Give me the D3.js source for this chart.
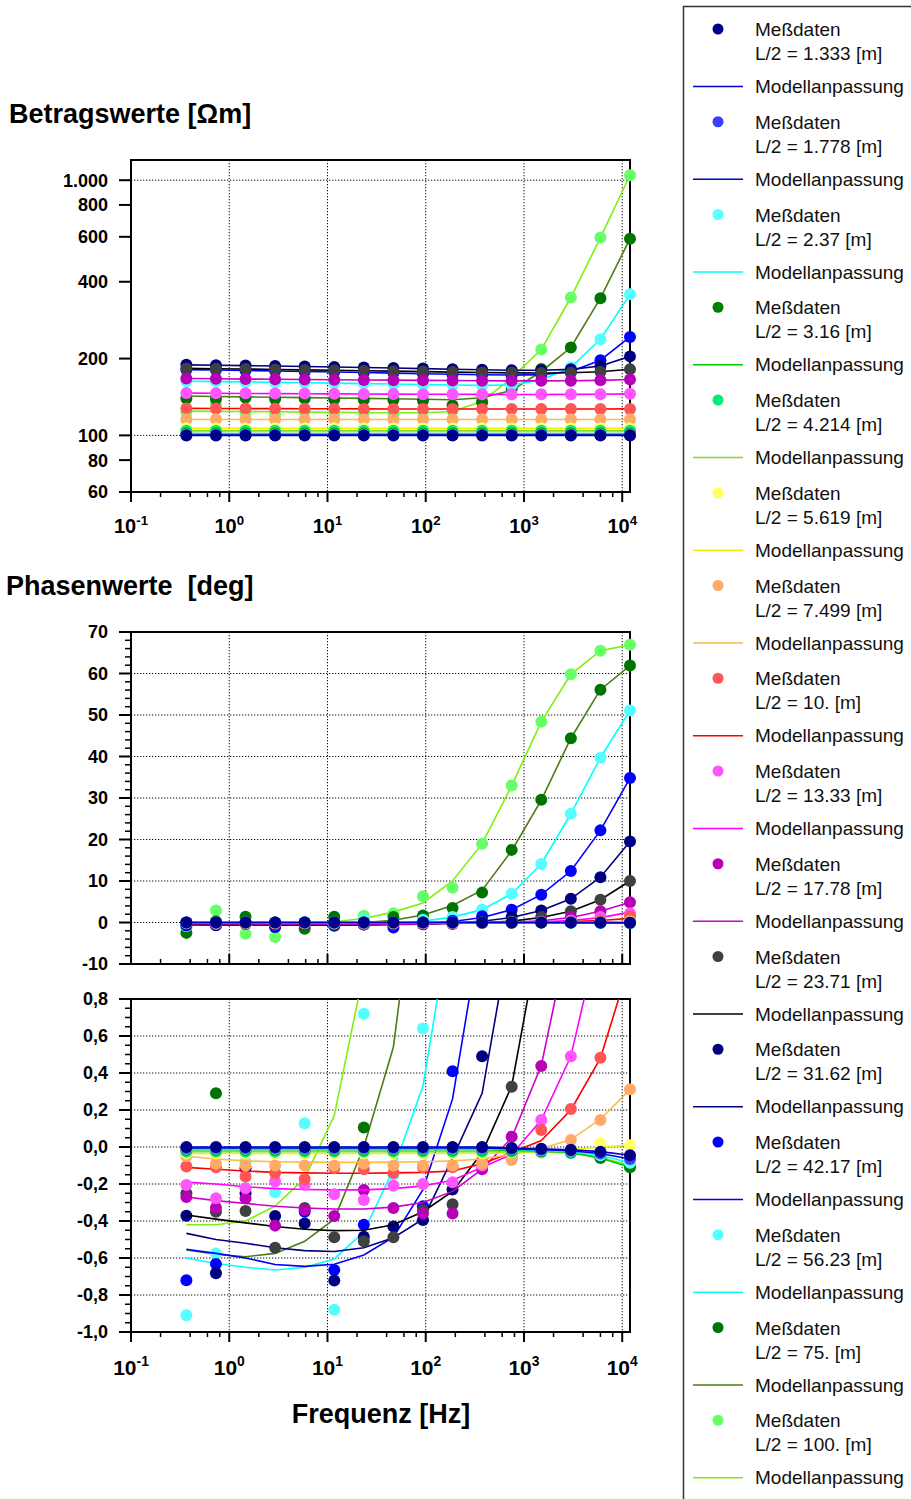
<!DOCTYPE html>
<html>
<head>
<meta charset="utf-8">
<script src="https://cdn.jsdelivr.net/npm/d3@7"></script>
<style>
  body { margin: 0; background: #fff; }
  svg { display: block; }
  text { font-family: "Liberation Sans", Arial, Helvetica, sans-serif; }
</style>
</head>
<body>
<svg id="chart" width="911" height="1499"></svg>
<script>
// Measurement frequencies [Hz]
const frequencies = [0.3662, 0.7324, 1.465, 2.930, 5.859, 11.72, 23.44, 46.88, 93.75, 187.5, 375, 750, 1500, 3000, 6000, 12000];

// Half electrode spacings L/2 [m]
const spacingLabels = ["1.333", "1.778", "2.37", "3.16", "4.214", "5.619", "7.499", "10.", "13.33", "17.78", "23.71", "31.62", "42.17", "56.23", "75.", "100."];

const measuredColors = ["#000088", "#3d3dff", "#5cffff", "#008000", "#00ee77", "#ffff66", "#ffaa66", "#ff5555", "#ff55ff", "#b800b8", "#404040", "#000080", "#0000ff", "#55ffff", "#007400", "#66ff66"];
const modelColors    = ["#0000c8", "#0000d8", "#00ffff", "#00c800", "#80e020", "#f0f000", "#ffbb44", "#ff0000", "#ff00ff", "#cc00cc", "#000000", "#000080", "#0000ff", "#00ffff", "#4b7d12", "#80ee10"];

// Apparent resistivity magnitude [Ohm m], one row per spacing
const rhoMeasured = [
  [100,100,100,100,100,100,100,100,100,100,100,100,100,100,100,100],
  [100.4,100.4,100.4,100.4,100.4,100.4,100.4,100.4,100.4,100.4,100.4,100.4,100.4,100.4,100.4,100.4],
  [100.9,100.9,100.9,100.9,100.9,100.9,100.9,100.9,100.9,100.9,100.9,100.9,100.9,100.9,100.9,100.9],
  [101.7,101.7,101.7,101.7,101.7,101.7,101.7,101.7,101.7,101.7,101.7,101.7,101.7,101.7,101.7,101.7],
  [104.2,104.2,104.2,104.2,104.2,104.2,104.2,104.2,104.2,104.2,104.2,104.2,104.2,104.2,104.2,104.2],
  [106.6,106.6,106.6,106.6,106.6,106.6,106.6,106.6,106.6,106.6,106.6,106.6,106.6,106.6,106.6,106.6],
  [115.6,115.6,115.6,115.6,115.6,115.6,115.6,115.6,115.6,115.6,115.6,115.6,115.6,115.6,115.6,115.6],
  [127.6,127.5,127.4,127.3,127.2,127.1,127.0,126.9,126.9,126.8,126.8,126.8,126.8,126.8,126.9,127.0],
  [146.6,146.4,146.2,146.0,145.8,145.6,145.4,145.3,145.1,145.0,144.9,144.8,144.8,144.9,145.1,145.6],
  [167.0,166.6,166.2,165.9,165.5,165.2,164.9,164.6,164.3,164.0,163.8,163.6,163.6,163.8,164.3,165.6],
  [183.0,182.5,182.0,181.3,180.6,179.9,179.2,178.5,177.8,177.0,176.3,175.8,175.7,176.0,177.5,181.5],
  [189.0,188.4,187.7,187.0,186.2,185.4,184.5,183.6,182.7,181.7,180.7,180.0,180.0,181.5,187.0,204.0],
  [181.0,180.3,179.6,178.8,178.0,177.2,176.3,175.4,174.5,173.6,172.8,172.3,173.0,178.0,197.0,243.0],
  [163.0,162.5,162.0,161.4,160.8,160.2,159.6,159.0,158.3,157.6,157.0,157.5,165.0,185.0,238.0,357.0],
  [139.5,139.0,140.5,139.0,139.5,138.5,138.0,137.5,137.0,131.0,135.0,152.0,182.0,221.0,345.0,590.0],
  [123.0,133.0,122.5,121.0,124.0,122.0,123.0,121.5,123.5,125.0,137.0,170.0,217.0,347.0,596.0,1046.0]
];

const rhoModel = [
  [100,100,100,100,100,100,100,100,100,100,100,100,100,100,100,100],
  [100.4,100.4,100.4,100.4,100.4,100.4,100.4,100.4,100.4,100.4,100.4,100.4,100.4,100.4,100.4,100.4],
  [100.9,100.9,100.9,100.9,100.9,100.9,100.9,100.9,100.9,100.9,100.9,100.9,100.9,100.9,100.9,100.9],
  [101.7,101.7,101.7,101.7,101.7,101.7,101.7,101.7,101.7,101.7,101.7,101.7,101.7,101.7,101.7,101.7],
  [104.2,104.2,104.2,104.2,104.2,104.2,104.2,104.2,104.2,104.2,104.2,104.2,104.2,104.2,104.2,104.2],
  [106.6,106.6,106.6,106.6,106.6,106.6,106.6,106.6,106.6,106.6,106.6,106.6,106.6,106.6,106.6,106.6],
  [115.4,115.4,115.4,115.4,115.4,115.4,115.4,115.4,115.4,115.4,115.4,115.4,115.4,115.4,115.4,115.4],
  [127.6,127.5,127.4,127.3,127.2,127.1,127.0,126.9,126.9,126.8,126.8,126.8,126.8,126.8,126.9,127.0],
  [146.4,146.2,146.0,145.8,145.6,145.4,145.3,145.1,145.0,144.9,144.8,144.7,144.7,144.8,145.0,145.5],
  [167.0,166.6,166.2,165.9,165.5,165.2,164.9,164.6,164.3,164.0,163.8,163.6,163.6,163.8,164.3,165.6],
  [183.0,182.5,182.0,181.3,180.6,179.9,179.2,178.5,177.8,177.0,176.3,175.8,175.7,176.0,177.5,181.5],
  [189.0,188.4,187.7,187.0,186.2,185.4,184.5,183.6,182.7,181.7,180.7,180.0,180.0,181.5,187.0,204.0],
  [181.0,180.3,179.6,178.8,178.0,177.2,176.3,175.4,174.5,173.6,172.8,172.3,173.0,178.0,197.0,243.0],
  [163.0,162.5,162.0,161.4,160.8,160.2,159.6,159.0,158.3,157.6,157.0,157.5,165.0,185.0,238.0,357.0],
  [142.6,142.1,141.6,141.1,140.6,140.1,139.6,139.1,138.5,138.0,140.5,150.0,178.0,221.0,345.0,590.0],
  [124.5,124.2,124.0,123.7,123.4,123.1,122.8,122.6,122.6,124.0,136.0,168.0,217.0,347.0,596.0,1046.0]
];

// Phase [deg], one row per spacing
const phaseMeasured = [
  [0,0,0,0,0,0,0,0,0,0,0,-0.005,-0.01,-0.015,-0.025,-0.045],
  [-0.005,-0.005,-0.005,-0.005,-0.005,-0.005,-0.005,-0.005,-0.005,-0.005,-0.005,-0.01,-0.015,-0.02,-0.035,-0.065],
  [-0.01,-0.01,-0.01,-0.01,-0.01,-0.01,-0.01,-0.01,-0.01,-0.01,-0.01,-0.012,-0.018,-0.025,-0.045,-0.085],
  [-0.015,-0.015,-0.015,-0.015,-0.015,-0.015,-0.015,-0.015,-0.015,-0.015,-0.015,-0.017,-0.022,-0.03,-0.06,-0.11],
  [-0.025,-0.025,-0.025,-0.025,-0.025,-0.025,-0.025,-0.025,-0.025,-0.025,-0.025,-0.025,-0.027,-0.032,-0.055,-0.1],
  [-0.035,-0.035,-0.035,-0.035,-0.035,-0.035,-0.035,-0.035,-0.035,-0.035,-0.035,-0.03,-0.025,-0.015,0.02,0.01],
  [-0.05,-0.09,-0.1,-0.1,-0.1,-0.1,-0.09,-0.1,-0.1,-0.1,-0.09,-0.07,-0.03,0.038,0.146,0.312],
  [-0.106,-0.11,-0.16,-0.14,-0.173,-0.115,-0.12,-0.14,-0.11,-0.11,-0.08,-0.04,0.092,0.205,0.483,1.5],
  [-0.205,-0.277,-0.223,-0.187,-0.205,-0.256,-0.286,-0.21,-0.2,-0.19,-0.1,-0.061,0.146,0.49,1.3,2.2],
  [-0.27,-0.328,-0.277,-0.425,-0.34,-0.373,-0.232,-0.33,-0.36,-0.36,-0.12,0.056,0.438,1.3,2.7,4.9],
  [-0.25,-0.35,-0.346,-0.544,-0.33,-0.488,-0.51,-0.488,-0.34,-0.31,-0.02,0.326,1.3,2.7,5.5,10.0],
  [-0.371,-0.683,-0.25,-0.373,-0.413,-0.722,-0.485,-0.43,-0.395,-0.23,0.49,1.3,2.9,5.7,10.9,19.5],
  [-0.72,-0.632,-0.115,-1.1,-0.35,-0.665,-0.42,-1.2,-0.32,0.41,1.5,3.1,6.7,12.4,22.2,34.8],
  [-0.91,-0.575,-0.08,-0.245,0.128,-0.88,0.72,-0.15,0.64,1.3,3.1,6.9,14.1,26.2,39.7,51.1],
  [-2.5,0.29,1.4,-1.1,-1.5,1.4,0.106,1.3,1.7,3.5,7.2,17.5,29.6,44.4,56.1,61.9],
  [-1.3,2.9,-2.7,-3.5,-1.2,1.1,1.6,2.2,6.3,8.4,19.0,33.0,48.4,59.8,65.5,66.9]
];

const phaseModel = [
  [0,0,0,0,0,0,0,0,0,0,0,-0.005,-0.01,-0.015,-0.025,-0.045],
  [-0.005,-0.005,-0.005,-0.005,-0.005,-0.005,-0.005,-0.005,-0.005,-0.005,-0.005,-0.01,-0.015,-0.02,-0.035,-0.065],
  [-0.01,-0.01,-0.01,-0.01,-0.01,-0.01,-0.01,-0.01,-0.01,-0.01,-0.01,-0.012,-0.018,-0.025,-0.045,-0.085],
  [-0.015,-0.015,-0.015,-0.015,-0.015,-0.015,-0.015,-0.015,-0.015,-0.015,-0.015,-0.017,-0.022,-0.03,-0.06,-0.11],
  [-0.025,-0.025,-0.025,-0.025,-0.025,-0.025,-0.025,-0.025,-0.025,-0.025,-0.025,-0.025,-0.027,-0.032,-0.055,-0.1],
  [-0.035,-0.035,-0.035,-0.035,-0.035,-0.035,-0.035,-0.035,-0.035,-0.035,-0.035,-0.03,-0.025,-0.015,0.0,0.01],
  [-0.05,-0.065,-0.075,-0.08,-0.082,-0.083,-0.083,-0.082,-0.08,-0.075,-0.065,-0.04,-0.01,0.04,0.15,0.31],
  [-0.11,-0.12,-0.13,-0.137,-0.14,-0.142,-0.142,-0.14,-0.137,-0.13,-0.09,-0.03,0.035,0.2,0.48,1.0],
  [-0.19,-0.2,-0.215,-0.225,-0.23,-0.232,-0.232,-0.225,-0.21,-0.18,-0.11,-0.04,0.146,0.49,1.18,2.5],
  [-0.27,-0.29,-0.305,-0.32,-0.33,-0.335,-0.335,-0.325,-0.3,-0.24,-0.12,0.05,0.44,1.2,2.7,4.9],
  [-0.368,-0.39,-0.41,-0.43,-0.445,-0.452,-0.45,-0.42,-0.35,-0.24,-0.03,0.33,1.2,2.7,5.5,10.0],
  [-0.467,-0.5,-0.52,-0.545,-0.56,-0.565,-0.545,-0.49,-0.39,-0.06,0.29,1.2,2.9,5.7,10.9,19.5],
  [-0.553,-0.575,-0.6,-0.635,-0.645,-0.634,-0.584,-0.488,-0.23,0.26,1.22,3.1,6.7,12.4,22.2,34.8],
  [-0.6,-0.63,-0.65,-0.665,-0.65,-0.605,-0.46,-0.12,0.33,1.3,3.1,6.9,14.1,26.2,39.7,51.1],
  [-0.557,-0.58,-0.593,-0.575,-0.51,-0.39,0.0,0.54,1.8,4.1,7.8,17.3,29.5,44.4,56.1,61.9],
  [-0.42,-0.42,-0.4,-0.32,-0.17,0.17,0.95,2.5,4.7,10.0,19.0,33.0,48.4,59.8,65.5,66.9]
];

// Axis ticks and labels
const decadeTicks = [0.1, 1, 10, 100, 1000, 10000];
const decadeExponents = ["-1", "0", "1", "2", "3", "4"];
const minorMultipliers = [2, 4, 6, 8];
const rhoTicks = [60, 80, 100, 200, 400, 600, 800, 1000];
const rhoTickLabels = ["60", "80", "100", "200", "400", "600", "800", "1.000"];
const rhoGrid = [100, 1000];
const phaseTicks = [-10, 0, 10, 20, 30, 40, 50, 60, 70];
const phaseGrid = [0, 10, 20, 30, 40, 50, 60];
const zoomTicks = [-1.0, -0.8, -0.6, -0.4, -0.2, 0.0, 0.2, 0.4, 0.6, 0.8];
const zoomGrid = [-0.8, -0.6, -0.4, -0.2, 0.0, 0.2, 0.4, 0.6];

const svg = d3.select("#chart");
const X0 = 131, X1 = 630;
const x = d3.scaleLog().domain([0.1, 12000]).range([X0, X1]);

const minorX = [];
decadeTicks.forEach(d => minorMultipliers.forEach(m => { if (d * m <= 12000) minorX.push(d * m); }));

function drawPanel(cfg) {
  const g = svg.append("g");
  const y = cfg.y;
  const [yb, yt] = y.range();

  // dotted grid
  g.selectAll("line.vgrid").data(decadeTicks.slice(1)).join("line")
    .attr("x1", d => x(d)).attr("x2", d => x(d))
    .attr("y1", yt).attr("y2", yb)
    .attr("stroke", "#111").attr("stroke-width", 1).attr("stroke-dasharray", "1.3,1.7");
  g.selectAll("line.hgrid").data(cfg.grid).join("line")
    .attr("x1", X0).attr("x2", X1)
    .attr("y1", d => y(d)).attr("y2", d => y(d))
    .attr("stroke", "#111").attr("stroke-width", 1).attr("stroke-dasharray", "1.3,1.7");

  // frame
  g.append("rect").attr("x", X0).attr("y", yt)
    .attr("width", X1 - X0).attr("height", yb - yt)
    .attr("fill", "none").attr("stroke", "#000").attr("stroke-width", 2);

  // y ticks and labels
  g.selectAll("line.ymaj").data(cfg.yTicks).join("line")
    .attr("x1", X0 - 12).attr("x2", X0).attr("y1", d => y(d)).attr("y2", d => y(d))
    .attr("stroke", "#000").attr("stroke-width", 2);
  if (cfg.yMinor) {
    g.selectAll("line.ymin").data(cfg.yMinor).join("line")
      .attr("x1", X0 - 6).attr("x2", X0).attr("y1", d => y(d)).attr("y2", d => y(d))
      .attr("stroke", "#000").attr("stroke-width", 1.5);
  }
  g.selectAll("text.ylab").data(cfg.yTicks).join("text")
    .attr("x", 108).attr("y", d => y(d)).attr("dy", "0.36em")
    .attr("text-anchor", "end").attr("font-size", 18).attr("font-weight", "bold")
    .text((d, i) => cfg.yLabels[i]);

  // x ticks
  const dir = cfg.xTicksInward ? -1 : 1;
  g.selectAll("line.xmaj").data(decadeTicks).join("line")
    .attr("x1", d => x(d)).attr("x2", d => x(d))
    .attr("y1", yb).attr("y2", yb + dir * 10)
    .attr("stroke", "#000").attr("stroke-width", 2);
  g.selectAll("line.xmin").data(minorX).join("line")
    .attr("x1", d => x(d)).attr("x2", d => x(d))
    .attr("y1", yb).attr("y2", yb + dir * 5)
    .attr("stroke", "#000").attr("stroke-width", 1.5);
  if (cfg.xLabelBaseline) {
    const t = g.selectAll("text.xlab").data(decadeTicks).join("text")
      .attr("x", d => x(d)).attr("y", cfg.xLabelBaseline)
      .attr("text-anchor", "middle").attr("font-weight", "bold")
      .attr("font-size", cfg.xLabelSize);
    t.append("tspan").text("10");
    t.append("tspan").attr("dy", -cfg.xLabelSize * 0.42)
      .attr("font-size", cfg.xLabelSize * 0.66)
      .text((d, i) => decadeExponents[i]);
  }

  // model curves and measured points
  const clipId = "clip" + cfg.id;
  svg.append("clipPath").attr("id", clipId).append("rect")
    .attr("x", X0 - 10).attr("y", yt).attr("width", X1 - X0 + 20).attr("height", yb - yt);
  const [lo, hi] = d3.extent(y.domain());
  const line = d3.line().x(d => x(d[0])).y(d => y(d[1]));
  const data = g.append("g");
  for (let i = spacingLabels.length - 1; i >= 0; i--) {
    const model = frequencies.map((f, k) => [f, cfg.model[i][k]]);
    const meas = frequencies.map((f, k) => [f, cfg.meas[i][k]]).filter(d => d[1] >= lo && d[1] <= hi);
    data.append("path").datum(model)
      .attr("clip-path", `url(#${clipId})`)
      .attr("fill", "none").attr("stroke", modelColors[i]).attr("stroke-width", 1.6)
      .attr("d", line);
    data.append("g").selectAll("circle").data(meas).join("circle")
      .attr("cx", d => x(d[0])).attr("cy", d => y(d[1])).attr("r", 6)
      .attr("fill", measuredColors[i]);
  }
}

// magnitude panel
drawPanel({
  id: "rho",
  y: d3.scaleLog().domain([60, 1200]).range([492, 160]),
  grid: rhoGrid, yTicks: rhoTicks, yLabels: rhoTickLabels,
  meas: rhoMeasured, model: rhoModel,
  xLabelBaseline: 533, xLabelSize: 20
});

// phase panel
drawPanel({
  id: "phase",
  y: d3.scaleLinear().domain([-10, 70]).range([964, 632]),
  grid: phaseGrid, yTicks: phaseTicks, yLabels: phaseTicks.map(String),
  yMinor: d3.range(-10, 70, 2).filter(v => v % 10 !== 0),
  meas: phaseMeasured, model: phaseModel,
  xTicksInward: true
});

// phase panel, detail around zero
drawPanel({
  id: "phasezoom",
  y: d3.scaleLinear().domain([-1, 0.8]).range([1332, 999]),
  grid: zoomGrid, yTicks: zoomTicks,
  yLabels: zoomTicks.map(v => v.toFixed(1).replace(".", ",")),
  yMinor: d3.range(-20, 16).map(v => v * 0.05).filter(v => Math.abs(v * 5 - Math.round(v * 5)) > 1e-6),
  meas: phaseMeasured, model: phaseModel,
  xLabelBaseline: 1375, xLabelSize: 21
});

// titles
svg.append("text").attr("x", 9).attr("y", 123)
  .attr("font-size", 27).attr("font-weight", "bold").text("Betragswerte [Ωm]");
svg.append("text").attr("x", 6).attr("y", 595)
  .attr("font-size", 27).attr("font-weight", "bold").text("Phasenwerte\u00A0 [deg]");
svg.append("text").attr("x", 381).attr("y", 1423).attr("text-anchor", "middle")
  .attr("font-size", 27).attr("font-weight", "bold").text("Frequenz [Hz]");

// legend
const legend = svg.append("g");
legend.append("rect").attr("x", 683.5).attr("y", 6.5).attr("width", 400).attr("height", 1600)
  .attr("fill", "#fff").attr("stroke", "#333").attr("stroke-width", 1.5);
spacingLabels.forEach((lab, i) => {
  const base = 36 + 92.75 * i;
  legend.append("circle").attr("cx", 718).attr("cy", base - 7).attr("r", 5.5).attr("fill", measuredColors[i]);
  legend.append("text").attr("x", 755).attr("y", base).attr("font-size", 19).attr("fill", "#111").text("Meßdaten");
  legend.append("text").attr("x", 755).attr("y", base + 24).attr("font-size", 19).attr("fill", "#111").text(`L/2 = ${lab} [m]`);
  legend.append("line").attr("x1", 693).attr("x2", 743).attr("y1", base + 50.5).attr("y2", base + 50.5)
    .attr("stroke", modelColors[i]).attr("stroke-width", 1.6);
  legend.append("text").attr("x", 755).attr("y", base + 57).attr("font-size", 19).attr("fill", "#111").text("Modellanpassung");
});
</script>
</body>
</html>
